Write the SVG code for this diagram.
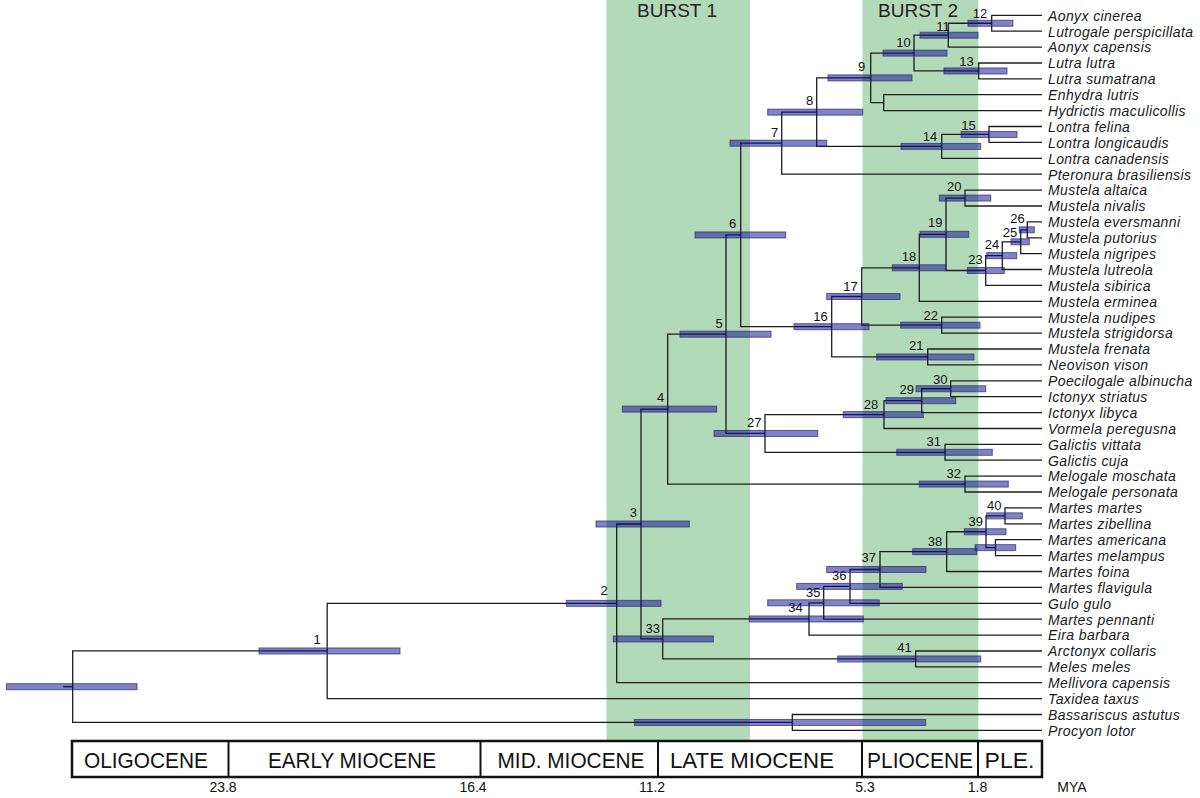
<svg xmlns="http://www.w3.org/2000/svg" width="1200" height="798" viewBox="0 0 1200 798">
<style>
.band{fill:#b3dab8}
.burst{font-family:"Liberation Sans",Arial,sans-serif;font-size:19px;fill:#222;text-anchor:middle}
.ln{fill:none;stroke:#1e1e1e;stroke-width:1.3}
.bar{fill:#060692;fill-opacity:0.5;stroke:#2a2a66;stroke-opacity:0.7;stroke-width:1}
.nl{font-family:"Liberation Sans",Arial,sans-serif;font-size:13px;fill:#111;text-anchor:middle}
.tx{font-family:"Liberation Sans",Arial,sans-serif;font-size:14px;font-style:italic;fill:#1a1a1a;letter-spacing:0.4px}
.ep{font-family:"Liberation Sans",Arial,sans-serif;font-size:22px;fill:#111;text-anchor:middle}
.ax{font-family:"Liberation Sans",Arial,sans-serif;font-size:14px;fill:#111;text-anchor:middle}
.box{fill:#fff;stroke:#111;stroke-width:2.5}
.div{stroke:#111;stroke-width:2}
</style>
<rect width="1200" height="798" fill="#fff"/>
<g id="bursts">
<rect class="band" x="606.5" y="0" width="143.5" height="741"/>
<rect class="band" x="862.5" y="0" width="115.8" height="741"/>
<text class="burst" x="677" y="17">BURST 1</text>
<text class="burst" x="918" y="17">BURST 2</text>
</g>
<g id="connectors">
<path class="ln" d="M1042 15.3 H991.7 V31.2 H1042"/>
<path class="ln" d="M991.7 23.25 H948.3 V47.1 H1042"/>
<path class="ln" d="M1042 63 H978.7 V78.9 H1042"/>
<path class="ln" d="M948.3 35.2 H914 V70.95 H978.7"/>
<path class="ln" d="M1042 94.7 H883.7 V110.6 H1042"/>
<path class="ln" d="M914 53.1 H870.7 V102.65 H883.7"/>
<path class="ln" d="M1042 126.5 H989 V142.4 H1042"/>
<path class="ln" d="M989 134.45 H941.7 V158.3 H1042"/>
<path class="ln" d="M870.7 77.9 H816.7 V146.4 H941.7"/>
<path class="ln" d="M816.7 112.15 H781.7 V174.2 H1042"/>
<path class="ln" d="M1042 190.1 H965 V206 H1042"/>
<path class="ln" d="M1042 221.9 H1027.3 V237.8 H1042"/>
<path class="ln" d="M1027.3 229.85 H1020.7 V253.7 H1042"/>
<path class="ln" d="M1020.7 241.8 H1002.3 V269.5 H1042"/>
<path class="ln" d="M1002.3 255.65 H985.7 V285.4 H1042"/>
<path class="ln" d="M965 198.05 H946 V270.5 H985.7"/>
<path class="ln" d="M946 234.3 H919.3 V301.3 H1042"/>
<path class="ln" d="M1042 317.2 H941.7 V333.1 H1042"/>
<path class="ln" d="M919.3 267.8 H861.7 V325.15 H941.7"/>
<path class="ln" d="M1042 349 H927.7 V364.9 H1042"/>
<path class="ln" d="M861.7 296.5 H831.7 V356.95 H927.7"/>
<path class="ln" d="M781.7 143.2 H740.7 V326.7 H831.7"/>
<path class="ln" d="M1042 380.8 H950.7 V396.7 H1042"/>
<path class="ln" d="M950.7 388.75 H921.7 V412.6 H1042"/>
<path class="ln" d="M921.7 400.7 H884 V428.5 H1042"/>
<path class="ln" d="M1042 444.4 H945 V460.2 H1042"/>
<path class="ln" d="M884 414.6 H765 V452.3 H945"/>
<path class="ln" d="M740.7 234.95 H726 V433.45 H765"/>
<path class="ln" d="M1042 476.1 H965 V492 H1042"/>
<path class="ln" d="M726 334.2 H667.7 V484.05 H965"/>
<path class="ln" d="M1042 507.9 H1005 V523.8 H1042"/>
<path class="ln" d="M1042 539.7 H995.5 V555.6 H1042"/>
<path class="ln" d="M1005 515.85 H986 V547.65 H995.5"/>
<path class="ln" d="M986 531.75 H946.7 V571.5 H1042"/>
<path class="ln" d="M946.7 551.6 H880 V587.4 H1042"/>
<path class="ln" d="M880 569.5 H850 V603.3 H1042"/>
<path class="ln" d="M850 586.4 H823.7 V619.2 H1042"/>
<path class="ln" d="M823.7 602.8 H809 V635.1 H1042"/>
<path class="ln" d="M1042 651 H915.7 V666.9 H1042"/>
<path class="ln" d="M809 618.95 H662.7 V658.95 H915.7"/>
<path class="ln" d="M667.7 409.1 H641 V638.95 H662.7"/>
<path class="ln" d="M641 524 H616.7 V682.7 H1042"/>
<path class="ln" d="M616.7 603.35 H327.2 V698.6 H1042"/>
<path class="ln" d="M1042 714.5 H792.3 V730.4 H1042"/>
<path class="ln" d="M327.2 650.95 H72.7 V722.45 H792.3"/>
<path class="ln" d="M63 686.7 H72.7"/>
</g>
<g id="node-root"><rect class="bar" x="6.5" y="683.7" width="130.5" height="6"/></g>
<g id="node-1"><rect class="bar" x="259" y="647.95" width="141" height="6"/><text class="nl" x="317" y="644">1</text></g>
<g id="node-2"><rect class="bar" x="566.4" y="600.35" width="94.6" height="6"/><text class="nl" x="604" y="595">2</text></g>
<g id="node-3"><rect class="bar" x="596" y="521" width="93.3" height="6"/><text class="nl" x="633.3" y="517.3">3</text></g>
<g id="node-4"><rect class="bar" x="622.3" y="406.1" width="94.4" height="6"/><text class="nl" x="660.7" y="402.3">4</text></g>
<g id="node-5"><rect class="bar" x="680" y="331.2" width="91" height="6"/><text class="nl" x="719" y="328.3">5</text></g>
<g id="node-6"><rect class="bar" x="695" y="231.95" width="90.7" height="6"/><text class="nl" x="732.5" y="228.3">6</text></g>
<g id="node-7"><rect class="bar" x="730" y="140.2" width="96.7" height="6"/><text class="nl" x="774.5" y="136.7">7</text></g>
<g id="node-8"><rect class="bar" x="767.7" y="109.15" width="95" height="6"/><text class="nl" x="809.5" y="105">8</text></g>
<g id="node-9"><rect class="bar" x="828" y="74.9" width="84" height="6"/><text class="nl" x="861.5" y="70.7">9</text></g>
<g id="node-10"><rect class="bar" x="883" y="50.1" width="64" height="6"/><text class="nl" x="903.5" y="46.7">10</text></g>
<g id="node-11"><rect class="bar" x="920" y="32.2" width="58" height="6"/><text class="nl" x="943" y="30.7">11</text></g>
<g id="node-12"><rect class="bar" x="968" y="20.25" width="45" height="6"/><text class="nl" x="980" y="18.3">12</text></g>
<g id="node-13"><rect class="bar" x="944" y="67.95" width="63" height="6"/><text class="nl" x="966.5" y="65.7">13</text></g>
<g id="node-14"><rect class="bar" x="901" y="143.4" width="79.7" height="6"/><text class="nl" x="930" y="141">14</text></g>
<g id="node-15"><rect class="bar" x="961" y="131.45" width="56" height="6"/><text class="nl" x="968.5" y="130">15</text></g>
<g id="node-16"><rect class="bar" x="794" y="323.7" width="75" height="6"/><text class="nl" x="820.5" y="321">16</text></g>
<g id="node-17"><rect class="bar" x="826.7" y="293.5" width="73.3" height="6"/><text class="nl" x="850.5" y="291">17</text></g>
<g id="node-18"><rect class="bar" x="892.3" y="264.8" width="53.7" height="6"/><text class="nl" x="909" y="260.7">18</text></g>
<g id="node-19"><rect class="bar" x="920" y="231.3" width="48.7" height="6"/><text class="nl" x="935.3" y="227.3">19</text></g>
<g id="node-20"><rect class="bar" x="939.3" y="195.05" width="51.4" height="6"/><text class="nl" x="954.2" y="190.7">20</text></g>
<g id="node-21"><rect class="bar" x="876.7" y="353.95" width="97.3" height="6"/><text class="nl" x="916.3" y="350">21</text></g>
<g id="node-22"><rect class="bar" x="900.7" y="322.15" width="79.3" height="6"/><text class="nl" x="930.8" y="320">22</text></g>
<g id="node-23"><rect class="bar" x="967.3" y="267.5" width="37" height="6"/><text class="nl" x="975.5" y="264.3">23</text></g>
<g id="node-24"><rect class="bar" x="986.7" y="252.65" width="30" height="6"/><text class="nl" x="992" y="249.3">24</text></g>
<g id="node-25"><rect class="bar" x="1011" y="238.8" width="18.3" height="6"/><text class="nl" x="1010" y="236.7">25</text></g>
<g id="node-26"><rect class="bar" x="1019.3" y="226.85" width="15" height="6"/><text class="nl" x="1017.5" y="223.3">26</text></g>
<g id="node-27"><rect class="bar" x="714" y="430.45" width="103.7" height="6"/><text class="nl" x="754.2" y="426.7">27</text></g>
<g id="node-28"><rect class="bar" x="843.3" y="411.6" width="80" height="6"/><text class="nl" x="871" y="409">28</text></g>
<g id="node-29"><rect class="bar" x="886" y="397.7" width="69.7" height="6"/><text class="nl" x="906.8" y="394.3">29</text></g>
<g id="node-30"><rect class="bar" x="916" y="385.75" width="69.7" height="6"/><text class="nl" x="940.2" y="384.3">30</text></g>
<g id="node-31"><rect class="bar" x="896.7" y="449.3" width="95.6" height="6"/><text class="nl" x="933.8" y="446">31</text></g>
<g id="node-32"><rect class="bar" x="919.3" y="481.05" width="89" height="6"/><text class="nl" x="953.8" y="478.3">32</text></g>
<g id="node-33"><rect class="bar" x="613.3" y="635.95" width="100" height="6"/><text class="nl" x="652.8" y="633.3">33</text></g>
<g id="node-34"><rect class="bar" x="749.3" y="615.95" width="114" height="6"/><text class="nl" x="795.5" y="612.3">34</text></g>
<g id="node-35"><rect class="bar" x="767.7" y="599.8" width="111.6" height="6"/><text class="nl" x="813.3" y="596.7">35</text></g>
<g id="node-36"><rect class="bar" x="796.7" y="583.4" width="105.6" height="6"/><text class="nl" x="839.2" y="580">36</text></g>
<g id="node-37"><rect class="bar" x="826.7" y="566.5" width="99.3" height="6"/><text class="nl" x="868.8" y="561.7">37</text></g>
<g id="node-38"><rect class="bar" x="912.7" y="548.6" width="64" height="6"/><text class="nl" x="935" y="546">38</text></g>
<g id="node-39"><rect class="bar" x="964.3" y="528.75" width="41.7" height="6"/><text class="nl" x="975.8" y="525.7">39</text></g>
<g id="node-40"><rect class="bar" x="986.7" y="512.85" width="35.6" height="6"/><text class="nl" x="994.2" y="510">40</text></g>
<g id="node-am"><rect class="bar" x="975" y="544.65" width="40.7" height="6"/></g>
<g id="node-41"><rect class="bar" x="837.7" y="655.95" width="143" height="6"/><text class="nl" x="904.5" y="652.3">41</text></g>
<g id="node-bp"><rect class="bar" x="634.3" y="719.45" width="291.4" height="6"/></g>
<g id="taxa">
<g id="t1"><text class="tx" x="1048" y="20.6">Aonyx cinerea</text></g>
<g id="t2"><text class="tx" x="1048" y="36.5">Lutrogale perspicillata</text></g>
<g id="t3"><text class="tx" x="1048" y="52.4">Aonyx capensis</text></g>
<g id="t4"><text class="tx" x="1048" y="68.3">Lutra lutra</text></g>
<g id="t5"><text class="tx" x="1048" y="84.2">Lutra sumatrana</text></g>
<g id="t6"><text class="tx" x="1048" y="100">Enhydra lutris</text></g>
<g id="t7"><text class="tx" x="1048" y="115.9">Hydrictis maculicollis</text></g>
<g id="t8"><text class="tx" x="1048" y="131.8">Lontra felina</text></g>
<g id="t9"><text class="tx" x="1048" y="147.7">Lontra longicaudis</text></g>
<g id="t10"><text class="tx" x="1048" y="163.6">Lontra canadensis</text></g>
<g id="t11"><text class="tx" x="1048" y="179.5">Pteronura brasiliensis</text></g>
<g id="t12"><text class="tx" x="1048" y="195.4">Mustela altaica</text></g>
<g id="t13"><text class="tx" x="1048" y="211.3">Mustela nivalis</text></g>
<g id="t14"><text class="tx" x="1048" y="227.2">Mustela eversmanni</text></g>
<g id="t15"><text class="tx" x="1048" y="243.1">Mustela putorius</text></g>
<g id="t16"><text class="tx" x="1048" y="259">Mustela nigripes</text></g>
<g id="t17"><text class="tx" x="1048" y="274.8">Mustela lutreola</text></g>
<g id="t18"><text class="tx" x="1048" y="290.7">Mustela sibirica</text></g>
<g id="t19"><text class="tx" x="1048" y="306.6">Mustela erminea</text></g>
<g id="t20"><text class="tx" x="1048" y="322.5">Mustela nudipes</text></g>
<g id="t21"><text class="tx" x="1048" y="338.4">Mustela strigidorsa</text></g>
<g id="t22"><text class="tx" x="1048" y="354.3">Mustela frenata</text></g>
<g id="t23"><text class="tx" x="1048" y="370.2">Neovison vison</text></g>
<g id="t24"><text class="tx" x="1048" y="386.1">Poecilogale albinucha</text></g>
<g id="t25"><text class="tx" x="1048" y="402">Ictonyx striatus</text></g>
<g id="t26"><text class="tx" x="1048" y="417.9">Ictonyx libyca</text></g>
<g id="t27"><text class="tx" x="1048" y="433.8">Vormela peregusna</text></g>
<g id="t28"><text class="tx" x="1048" y="449.7">Galictis vittata</text></g>
<g id="t29"><text class="tx" x="1048" y="465.5">Galictis cuja</text></g>
<g id="t30"><text class="tx" x="1048" y="481.4">Melogale moschata</text></g>
<g id="t31"><text class="tx" x="1048" y="497.3">Melogale personata</text></g>
<g id="t32"><text class="tx" x="1048" y="513.2">Martes martes</text></g>
<g id="t33"><text class="tx" x="1048" y="529.1">Martes zibellina</text></g>
<g id="t34"><text class="tx" x="1048" y="545">Martes americana</text></g>
<g id="t35"><text class="tx" x="1048" y="560.9">Martes melampus</text></g>
<g id="t36"><text class="tx" x="1048" y="576.8">Martes foina</text></g>
<g id="t37"><text class="tx" x="1048" y="592.7">Martes flavigula</text></g>
<g id="t38"><text class="tx" x="1048" y="608.6">Gulo gulo</text></g>
<g id="t39"><text class="tx" x="1048" y="624.5">Martes pennanti</text></g>
<g id="t40"><text class="tx" x="1048" y="640.4">Eira barbara</text></g>
<g id="t41"><text class="tx" x="1048" y="656.3">Arctonyx collaris</text></g>
<g id="t42"><text class="tx" x="1048" y="672.2">Meles meles</text></g>
<g id="t43"><text class="tx" x="1048" y="688">Mellivora capensis</text></g>
<g id="t44"><text class="tx" x="1048" y="703.9">Taxidea taxus</text></g>
<g id="t45"><text class="tx" x="1048" y="719.8">Bassariscus astutus</text></g>
<g id="t46"><text class="tx" x="1048" y="735.7">Procyon lotor</text></g>
</g>
<g id="timescale">
<rect class="box" x="72" y="741" width="970" height="36"/>
<line class="div" x1="228.5" y1="741" x2="228.5" y2="777"/>
<line class="div" x1="480.5" y1="741" x2="480.5" y2="777"/>
<line class="div" x1="658" y1="741" x2="658" y2="777"/>
<line class="div" x1="862" y1="741" x2="862" y2="777"/>
<line class="div" x1="978" y1="741" x2="978" y2="777"/>
<text class="ep" x="146" y="768" textLength="124" lengthAdjust="spacingAndGlyphs">OLIGOCENE</text>
<text class="ep" x="352" y="768" textLength="168" lengthAdjust="spacingAndGlyphs">EARLY MIOCENE</text>
<text class="ep" x="571" y="768" textLength="147" lengthAdjust="spacingAndGlyphs">MID. MIOCENE</text>
<text class="ep" x="752" y="768" textLength="164" lengthAdjust="spacingAndGlyphs">LATE MIOCENE</text>
<text class="ep" x="920" y="768" textLength="106" lengthAdjust="spacingAndGlyphs">PLIOCENE</text>
<text class="ep" x="1009.5" y="768" textLength="50" lengthAdjust="spacingAndGlyphs">PLE.</text>
<text class="ax" x="223" y="792">23.8</text>
<text class="ax" x="473" y="792">16.4</text>
<text class="ax" x="652" y="792">11.2</text>
<text class="ax" x="865" y="792">5.3</text>
<text class="ax" x="977.5" y="792">1.8</text>
<text class="ax" x="1072" y="792">MYA</text>
</g>
</svg>
